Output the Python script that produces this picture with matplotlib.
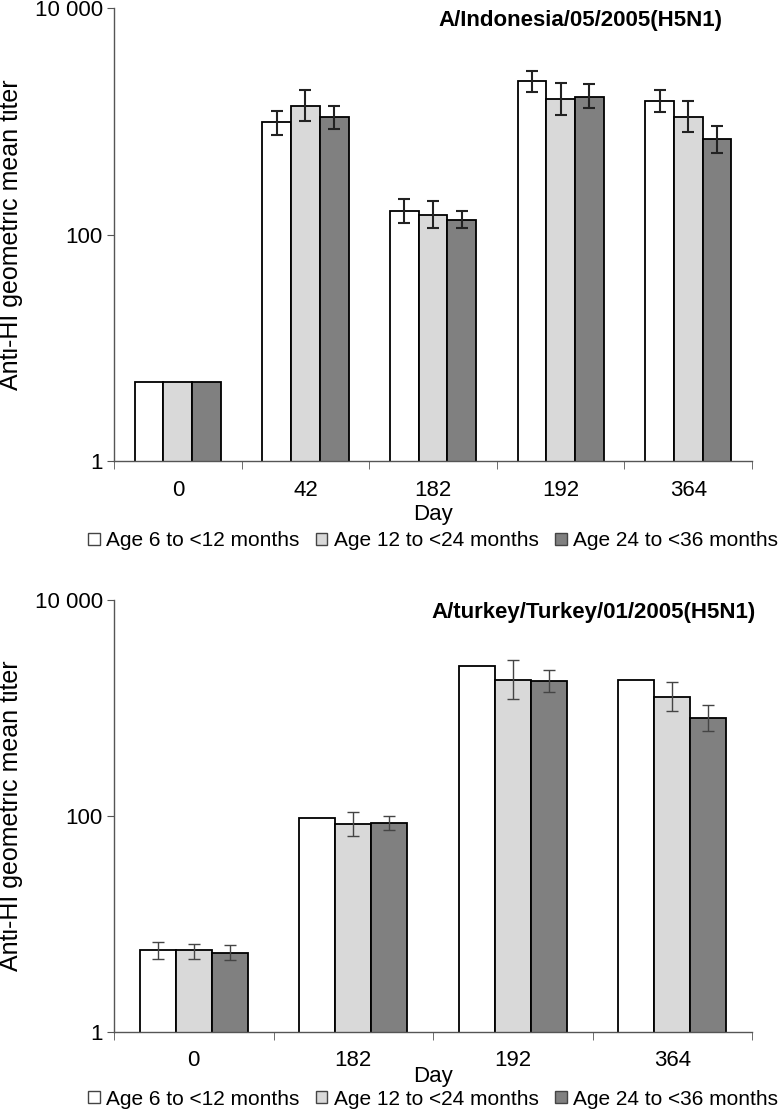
import matplotlib
matplotlib.use("Agg")
import matplotlib.pyplot as plt
import numpy as np

plt.rcParams["font.family"] = ["Liberation Sans", "DejaVu Sans"]

SERIES = ["Age 6 to <12 months", "Age 12 to <24 months", "Age 24 to <36 months"]
COLORS = ["#ffffff", "#d9d9d9", "#808080"]

# Panel A: A/Indonesia/05/2005(H5N1)
IND_TITLE = "A/Indonesia/05/2005(H5N1)"
IND_DAYS = ["0", "42", "182", "192", "364"]
IND_GMT = [
    [5.0, 980, 163, 2260, 1515],
    [5.0, 1377, 150, 1578, 1094],
    [5.0, 1094, 136, 1655, 693],
]
IND_LO = [
    [None, 762, 127, 1820, 1211],
    [None, 1014, 115, 1140, 800],
    [None, 857, 115, 1303, 521],
]
IND_HI = [
    [None, 1244, 208, 2770, 1907],
    [None, 1880, 198, 2200, 1514],
    [None, 1358, 162, 2142, 903],
]

# Panel B: A/turkey/Turkey/01/2005(H5N1)
TUR_TITLE = "A/turkey/Turkey/01/2005(H5N1)"
TUR_DAYS = ["0", "182", "192", "364"]
TUR_GMT = [
    [5.8, 95, 2466, 1818],
    [5.8, 83.6, 1818, 1265],
    [5.44, 86.5, 1792, 808],
]
TUR_LO = [
    [4.72, None, None, None],
    [4.72, 65.1, 1220, 938],
    [4.65, 74, 1399, 612],
]
TUR_HI = [
    [6.78, None, None, None],
    [6.6, 108, 2767, 1742],
    [6.36, 100.4, 2235, 1073],
]

SPINE = "#555555"


def panel(ax, title, days, gmt, lo, hi, err_lw, err_color,
          title_x, day_y, leg_y, ylab_x):
    n = len(days)
    x = np.arange(n) + 0.5
    w = 0.225
    handles = []
    for i, (vals, l, h) in enumerate(zip(gmt, lo, hi)):
        xs = x + (i - 1) * w
        b = ax.bar(xs, vals, width=w, color=COLORS[i], edgecolor="black",
                   linewidth=1.3, label=SERIES[i], zorder=2)
        handles.append(b)
        for xx, v, a, c in zip(xs, vals, l, h):
            if a is None:
                continue
            ax.errorbar([xx], [v], yerr=[[v - a], [c - v]], fmt="none",
                        ecolor=err_color, elinewidth=err_lw, capsize=4,
                        capthick=err_lw, zorder=3)
    ax.set_yscale("log")
    ax.set_ylim(1, 10000)
    ax.set_xlim(0, n)
    ax.set_yticks([1, 100, 10000])
    ax.set_yticklabels(["1", "100", "10 000"])
    ax.yaxis.set_minor_locator(matplotlib.ticker.NullLocator())
    ax.set_xticks(x)
    ax.set_xticklabels(days)
    ax.set_xticks(np.arange(n + 1), minor=True)
    ax.tick_params(axis="x", which="major", length=0, pad=13, labelsize=16)
    ax.tick_params(axis="x", which="minor", length=6, direction="out",
                   color=SPINE)
    ax.tick_params(axis="y", length=5, direction="out", color=SPINE,
                   labelsize=16, pad=3)
    for s in ("top", "right"):
        ax.spines[s].set_visible(False)
    for s in ("left", "bottom"):
        ax.spines[s].set_color(SPINE)
        ax.spines[s].set_linewidth(1.0)
    ax.set_xlabel("Day", fontsize=16, va="center")
    ax.xaxis.set_label_coords(0.5, day_y)
    ax.set_ylabel("Anti-HI geometric mean titer", fontsize=18, va="center")
    ax.yaxis.set_label_coords(ylab_x, 0.5)
    ax.text(title_x, 0.995, title, transform=ax.transAxes, ha="right",
            va="top", fontsize=16, fontweight="bold")
    leg = ax.legend(handles=handles, loc="center", ncol=3, frameon=False,
                    bbox_to_anchor=(0.5, leg_y), fontsize=15,
                    handlelength=0.55, handleheight=0.55, handletextpad=0.3,
                    columnspacing=0.8, borderaxespad=0, borderpad=0)
    for p in leg.get_patches():
        p.set_edgecolor("#444444")
        p.set_linewidth(1.0)


fig = plt.figure(figsize=(7.8, 11.12), dpi=100)
ax1 = fig.add_axes([0.1462, 0.585, 0.818, 0.4078])
panel(ax1, IND_TITLE, IND_DAYS, IND_GMT, IND_LO, IND_HI, 1.5, "#222222",
      0.953, -0.118, -0.175, -0.161)
ax2 = fig.add_axes([0.1462, 0.0719, 0.818, 0.3885])
panel(ax2, TUR_TITLE, TUR_DAYS, TUR_GMT, TUR_LO, TUR_HI, 1.0, "#444444",
      1.005, -0.104, -0.155, -0.161)

fig.savefig("out.png", dpi=100, facecolor="white")
